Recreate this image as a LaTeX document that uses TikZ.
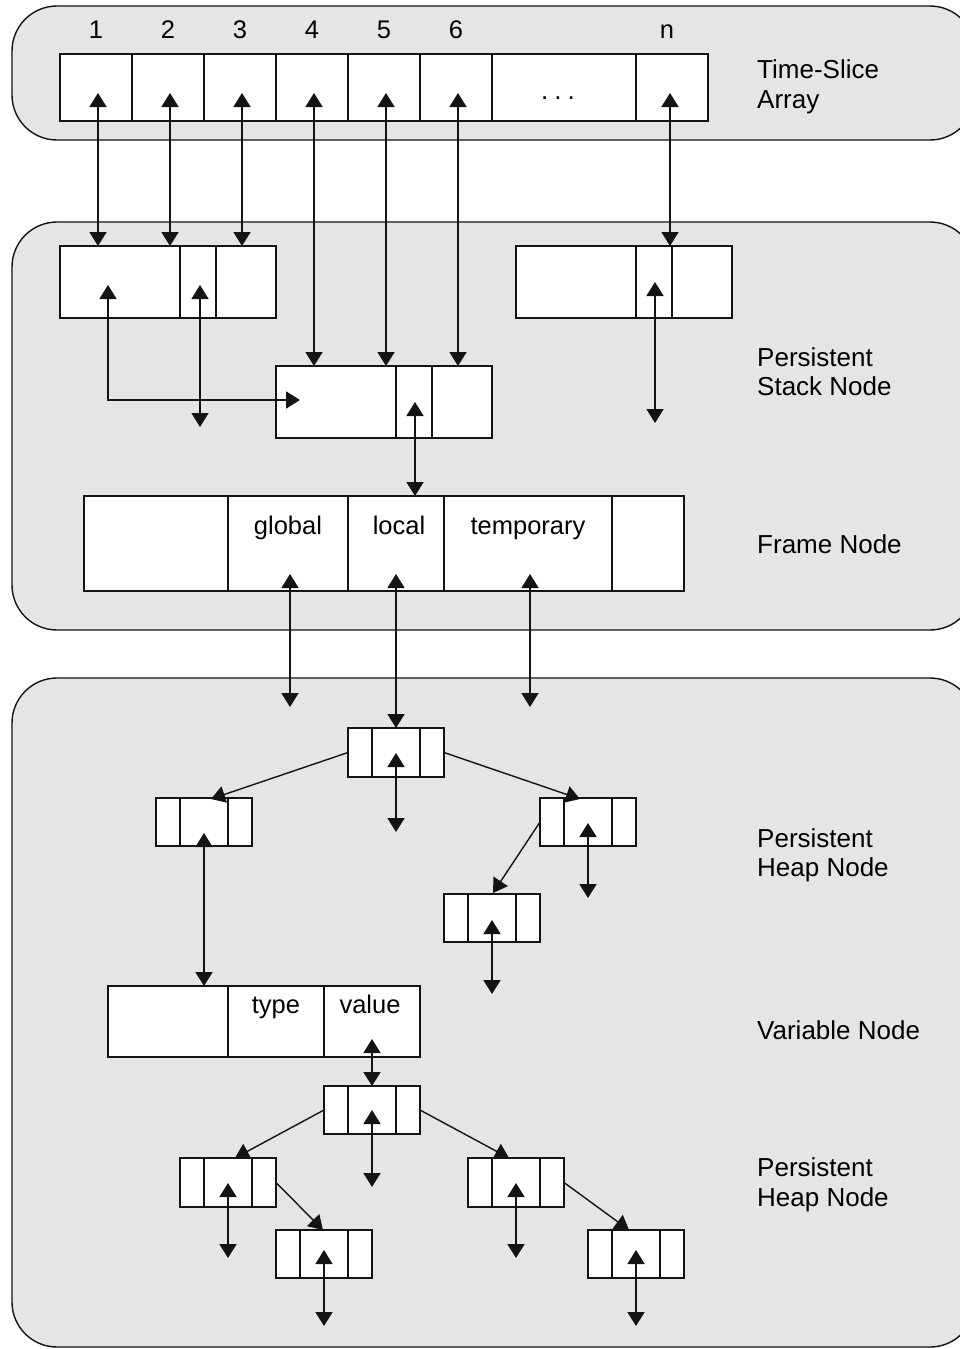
\documentclass[tikz,border=0pt]{standalone}
\usepackage{fontspec}
\setmainfont{Liberation Sans}
\usetikzlibrary{arrows.meta}
\definecolor{panelgray}{RGB}{229,229,229}
\definecolor{ink}{RGB}{20,20,20}
\tikzset{
  panel/.style={draw=ink, fill=panelgray, line width=1.4pt, rounded corners=45pt},
  rec/.style={draw=ink, fill=white, line width=1.6pt, inner sep=0pt, outer sep=0pt},
  rline/.style={draw=ink, line width=1.6pt},
  tipA/.tip={Triangle[width=17pt,length=14pt]},
  dbl/.style={draw=ink, line width=1.7pt, tipA-tipA},
  sgl/.style={draw=ink, line width=1.4pt, -tipA},
  lab/.style={font=\fontsize{25.5}{30}\selectfont, inner sep=0pt, anchor=base},
  side/.style={font=\fontsize{26}{30}\selectfont, inner sep=0pt, anchor=base west},
}
\newcommand\recbox[6]{%
  \node[rec, minimum width={#4-#2}, minimum height={#5-#3}] (#1) at ({(#2+#4)/2},{(#3+#5)/2}) {};
  \foreach \d in {#6} {\draw[rline] (\d,#3) -- (\d,#5);}
}
\begin{document}
\begin{tikzpicture}[x=1pt,y=-1pt]
\useasboundingbox (0,0) rectangle (960,1349);
\clip (0,0) rectangle (960,1349);
\fill[white] (0,0) rectangle (960,1349);

% panels
\draw[panel] (12,6) rectangle (975,140);
\draw[panel] (12,222) rectangle (975,630);
\draw[panel] (12,678) rectangle (975,1347);

% time-slice array
\recbox{arr}{60}{54}{708}{121}{132,204,276,348,420,492,636}
\foreach \x/\t in {96/1,168/2,240/3,312/4,384/5,456/6,667/n}
  \node[lab] (d\t) at (\x,38) {\t};
\node[inner sep=0pt, font=\fontsize{26}{29}\selectfont] (dots) at (558,98) {.\hspace{6pt}.\hspace{6pt}.};
\node[side] (tsa1) at (757,78) {Time-Slice};
\node[side] (tsa2) at (757,108) {Array};

% stack nodes
\recbox{snA}{60}{246}{276}{318}{180,216}
\recbox{snB}{516}{246}{732}{318}{636,672}
\recbox{snC}{276}{366}{492}{438}{396,432}
\node[side] (psn1) at (757,366) {Persistent};
\node[side] (psn2) at (757,395) {Stack Node};

% frame node
\recbox{frame}{84}{496}{684}{591}{228,348,444,612}
\node[lab] (lg) at (288,534) {global};
\node[lab] (ll) at (399,534) {local};
\node[lab] (lt) at (528,534) {temporary};
\node[side] (fn) at (757,553) {Frame Node};

% heap nodes (first)
\recbox{hroot}{348}{728}{444}{777}{372,420}
\recbox{hl}{156}{798}{252}{846}{180,228}
\recbox{hr}{540}{798}{636}{846}{564,612}
\recbox{hrl}{444}{894}{540}{942}{468,516}
\node[side] (phn1) at (757,847) {Persistent};
\node[side] (phn2) at (757,876) {Heap Node};

% variable node
\recbox{var}{108}{986}{420}{1057}{228,324}
\node[lab] (lty) at (276,1013) {type};
\node[lab] (lva) at (370,1013) {value};
\node[side] (vn) at (757,1039) {Variable Node};

% heap nodes (second)
\recbox{htwo}{324}{1086}{420}{1134}{348,396}
\recbox{htl}{180}{1158}{276}{1207}{204,252}
\recbox{htlr}{276}{1230}{372}{1278}{300,348}
\recbox{htr}{468}{1158}{564}{1207}{492,540}
\recbox{htrr}{588}{1230}{684}{1278}{612,660}
\node[side] (phm1) at (757,1176) {Persistent};
\node[side] (phm2) at (757,1206) {Heap Node};

% ---- connectors ----
% array -> stack nodes
\foreach \i/\x in {1/98,2/170,3/242}{
  \coordinate (ta\i) at (\x,93);
  \draw[dbl] (ta\i) -- (ta\i |- snA.north);
}
\foreach \i/\x in {4/314,5/386,6/458}{
  \coordinate (ta\i) at (\x,93);
  \draw[dbl] (ta\i) -- (ta\i |- snC.north);
}
\coordinate (tan) at (670,93);
\draw[dbl] (tan) -- (tan |- snB.north);

% stack node A internals
\coordinate (sa1) at (108,285);
\coordinate (sa1e) at (300,400);
\draw[dbl] (sa1) |- (sa1e);
\coordinate (sa2) at (200,285);
\coordinate (sa2e) at (200,427);
\draw[dbl] (sa2) -- (sa2e);
% stack node B
\coordinate (sb1) at (655,282);
\coordinate (sb1e) at (655,423);
\draw[dbl] (sb1) -- (sb1e);
% stack node C -> frame
\coordinate (sc1) at (415,402);
\draw[dbl] (sc1) -- (sc1 |- frame.north);

% frame -> heap
\coordinate (fg) at (290,574);
\coordinate (fge) at (290,707);
\draw[dbl] (fg) -- (fge);
\coordinate (fl) at (396,574);
\draw[dbl] (fl) -- (fl |- hroot.north);
\coordinate (ft) at (530,574);
\coordinate (fte) at (530,707);
\draw[dbl] (ft) -- (fte);

% heap root
\coordinate (hr0) at (396,753);
\coordinate (hr0e) at (396,832);
\draw[dbl] (hr0) -- (hr0e);
\draw[sgl] (hroot.west) -- (211,799);
\draw[sgl] (hroot.east) -- (580,799);
% heap left -> variable
\coordinate (hl0) at (204,833);
\draw[dbl] (hl0) -- (hl0 |- var.north);
% heap right
\coordinate (hrp) at (588,823);
\coordinate (hrpe) at (588,898);
\draw[dbl] (hrp) -- (hrpe);
\draw[sgl] (540,822) -- (493,893);
\coordinate (hrlp) at (492,920);
\coordinate (hrlpe) at (492,994);
\draw[dbl] (hrlp) -- (hrlpe);

% variable -> second heap
\coordinate (vv) at (372,1039);
\draw[dbl] (vv) -- (vv |- htwo.north);
\coordinate (h2p) at (372,1110);
\coordinate (h2pe) at (372,1187);
\draw[dbl] (h2p) -- (h2pe);
\draw[sgl] (htwo.west) -- (235,1158);
\draw[sgl] (htwo.east) -- (509,1158);
\coordinate (h2lp) at (228,1183);
\coordinate (h2lpe) at (228,1258);
\draw[dbl] (h2lp) -- (h2lpe);
\draw[sgl] (htl.east) -- (323,1230);
\coordinate (h2lrp) at (324,1250);
\coordinate (h2lrpe) at (324,1326);
\draw[dbl] (h2lrp) -- (h2lrpe);
\coordinate (h2rp) at (516,1183);
\coordinate (h2rpe) at (516,1258);
\draw[dbl] (h2rp) -- (h2rpe);
\draw[sgl] (htr.east) -- (629,1230);
\coordinate (h2rrp) at (636,1250);
\coordinate (h2rrpe) at (636,1326);
\draw[dbl] (h2rrp) -- (h2rrpe);
\end{tikzpicture}
\end{document}
